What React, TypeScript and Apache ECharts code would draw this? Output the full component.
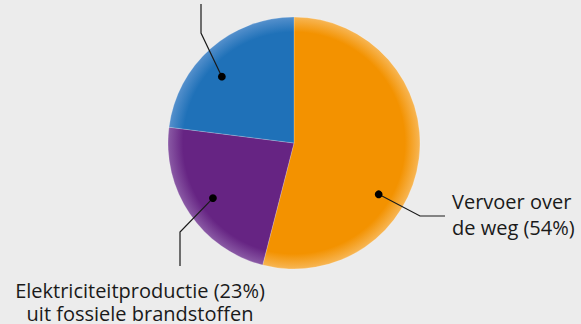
import React, { useEffect, useRef } from "react";
import * as echarts from "echarts";

const categories = ["Vervoer over de weg", "Elektriciteitproductie uit fossiele brandstoffen", "Overig"];
const values = [54, 23, 23];
const colors = ["#f39200", "#662483", "#1f71b8"];
const edgeColors = ["#f7b655", "#8a5aa5", "#5590cc"];

const CX = 294;
const CY = 143;
const R = 126;

function pt(angleDeg: number, r: number): [number, number] {
  const a = (angleDeg * Math.PI) / 180;
  return [CX + r * Math.sin(a), CY - r * Math.cos(a)];
}

export default function App() {
  const ref = useRef<HTMLDivElement>(null);
  useEffect(() => {
    document.body.style.margin = "0";
    document.body.style.background = "#ececec";
    const chart = echarts.init(ref.current!, null, { renderer: "svg" });
    const total = values.reduce((s, v) => s + v, 0);
    const bounds: number[] = [];
    let acc = 0;
    values.forEach((v) => {
      bounds.push(acc);
      acc += (v / total) * 360;
    });
    const mid = values.map((v, i) => bounds[i] + ((v / total) * 360) / 2);
    const dOrange = pt(mid[0] + 24, 99);
    const dPurple = pt(mid[1], 98);
    const dBlue = pt(mid[2] - 6, 98);
    const lineStyle = { stroke: "#1a1a1a", lineWidth: 1.2, fill: null };
    const font = "Open Sans";
    const textStyle = (text: string, align: string) => ({
      text,
      font: `20px "${font}"`,
      fill: "#1a1a1a",
      textAlign: align,
      textVerticalAlign: "middle",
    });
    const option: any = {
      animation: false,
      backgroundColor: "#ececec",
      series: [
        {
          type: "pie",
          center: [CX, CY],
          radius: [0, R],
          startAngle: 90,
          clockwise: true,
          z: 1,
          label: { show: false },
          labelLine: { show: false },
          emphasis: { disabled: true },
          data: values.map((v, i) => ({
            name: categories[i],
            value: v,
            itemStyle: {
              color: new echarts.graphic.RadialGradient(
                CX,
                CY,
                R,
                [
                  { offset: 0, color: colors[i] },
                  { offset: 0.88, color: colors[i] },
                  { offset: 1, color: edgeColors[i] },
                ],
                true
              ),
              borderColor: "rgba(255,255,255,0.35)",
              borderWidth: 0.6,
            },
          })),
        },
      ],
      graphic: {
        elements: [
          { type: "polyline", z: 100, shape: { points: [dOrange, [420, 216], [445, 216]] }, style: lineStyle },
          { type: "circle", z: 100, shape: { cx: dOrange[0], cy: dOrange[1], r: 3.9 }, style: { fill: "#000" } },
          { type: "polyline", z: 100, shape: { points: [dPurple, [180, 232], [180, 266]] }, style: lineStyle },
          { type: "circle", z: 100, shape: { cx: dPurple[0], cy: dPurple[1], r: 3.9 }, style: { fill: "#000" } },
          { type: "polyline", z: 100, shape: { points: [dBlue, [201, 33], [201, 4]] }, style: lineStyle },
          { type: "circle", z: 100, shape: { cx: dBlue[0], cy: dBlue[1], r: 3.9 }, style: { fill: "#000" } },
          { type: "text", z: 100, x: 452, y: 201, style: textStyle("Vervoer over", "left") },
          { type: "text", z: 100, x: 452, y: 227, style: textStyle("de weg (" + values[0] + "%)", "left") },
          { type: "text", z: 100, x: 140, y: 290, style: textStyle("Elektriciteitproductie (" + values[1] + "%)", "center") },
          { type: "text", z: 100, x: 140, y: 313, style: textStyle("uit fossiele brandstoffen", "center") },
        ],
      },
    };
    chart.setOption(option);
    return () => chart.dispose();
  }, []);
  return <div ref={ref} style={{ width: 581, height: 324 }} />;
}
